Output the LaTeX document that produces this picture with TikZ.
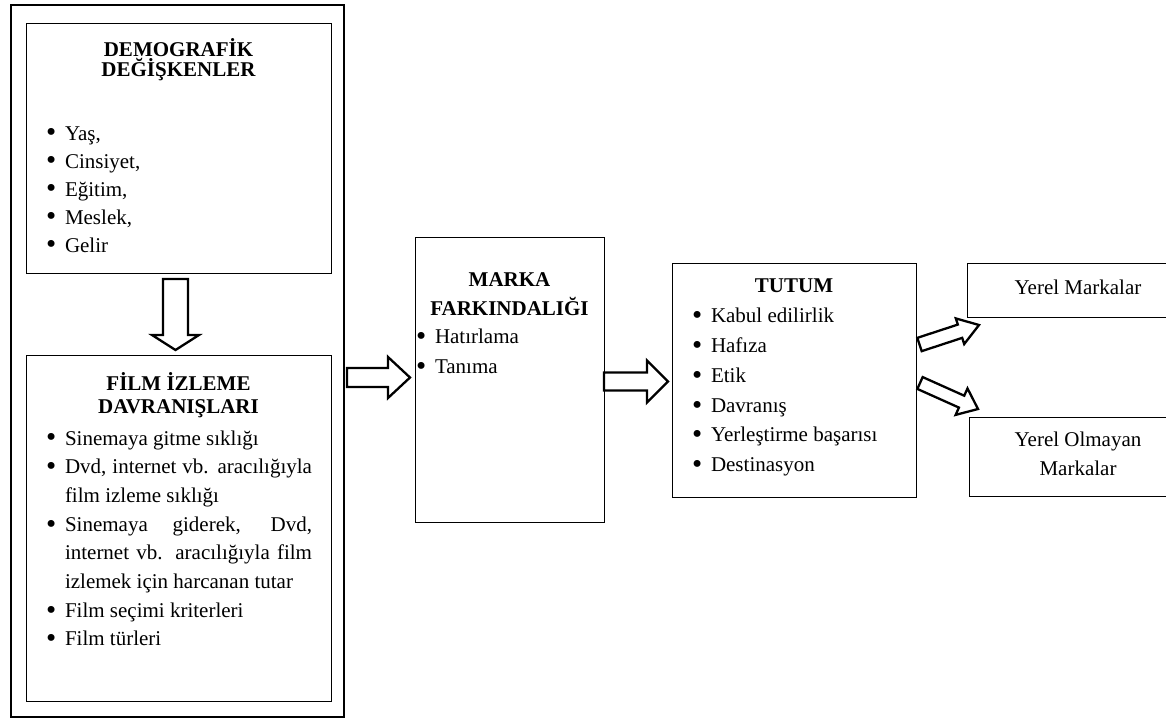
\documentclass[tikz,border=0pt]{standalone}
\usepackage{fontspec}
\setmainfont{Liberation Serif}
\usetikzlibrary{calc}
\newcommand\itm{\makebox[19pt][l]{\raisebox{-1.9pt}{\scalebox{1.38}{\textbullet}}}}
\newcommand\ind{\hspace*{19pt}}
\newcommand\lst[2]{\parbox[t]{300pt}{\fontsize{21pt}{#1}\selectfont #2}}
\newcommand\ttl[3]{\parbox[t]{300pt}{\centering#1\fontsize{21pt}{#2}\selectfont #3}}
\tikzset{
  box/.style={draw, line width=1.3pt, inner sep=0pt, anchor=north west},
  outerbox/.style={draw, line width=1.8pt, inner sep=0pt, anchor=north west},
  txt/.style={inner sep=0pt, outer sep=0pt},
  blockarrow/.style={draw, line width=2.3pt, fill=white, line join=miter},
}
% from, to, half shaft width, half head width, head length
\newcommand\blockarrow[5]{%
  \draw[blockarrow] let \p1=(#1), \p2=(#2),
     \n1={atan2(\y2-\y1,\x2-\x1)}, \n2={veclen(\x2-\x1,\y2-\y1)} in
     ($(\p1)+(\n1+90:#3)$) -- ++(\n1:{\n2*1pt-#5}) -- ++(\n1+90:{#4-#3}) -- (\p2)
     -- ($(\p2)+(\n1+180:#5)+(\n1-90:#4)$) -- ++(\n1+90:{#4-#3})
     -- ($(\p1)+(\n1-90:#3)$) -- cycle;}
\begin{document}
\begin{tikzpicture}[x=1pt,y=-1pt]
\useasboundingbox (0,0) rectangle (1166,718);
\clip (0,0) rectangle (1166,718);
\fill[white] (0,0) rectangle (1166,718);

% boxes
\node[outerbox, minimum width=333pt, minimum height=712pt] (outer) at (10,4) {};
\node[box, minimum width=305pt, minimum height=250pt] (demo) at (26,23) {};
\node[box, minimum width=305pt, minimum height=346pt] (film) at (26,355) {};
\node[box, minimum width=189pt, minimum height=285pt] (marka) at (415,237) {};
\node[box, minimum width=244pt, minimum height=234pt] (tutum) at (672,263) {};
\node[box, minimum width=222pt, minimum height=54pt] (yerel) at (967,263) {};
\node[box, minimum width=220pt, minimum height=79pt] (yabanci) at (969,417) {};

% texts
\node[txt, anchor=base] (demotitle) at (178.5,56) {\ttl{\bfseries}{20.7pt}{DEMOGRAFİK\\DEĞİŞKENLER}};
\node[txt, anchor=base west] (demolist) at (46,140) {\lst{28pt}{\itm Yaş,\\\itm Cinsiyet,\\\itm Eğitim,\\\itm Meslek,\\\itm Gelir}};

\node[txt, anchor=base] (filmtitle) at (178.5,390) {\ttl{\bfseries}{23.3pt}{FİLM İZLEME\\DAVRANIŞLARI}};
\node[txt, anchor=base west] (filmlist) at (46,445) {\lst{28.7pt}{%
\itm Sinemaya gitme sıklığı\\
\itm\makebox[247pt][s]{Dvd, internet vb. aracılığıyla}\\
\ind film izleme sıklığı\\
\itm\makebox[247pt][s]{Sinemaya giderek, Dvd,}\\
\ind\makebox[247pt][s]{internet vb. aracılığıyla film}\\
\ind izlemek için harcanan tutar\\
\itm Film seçimi kriterleri\\
\itm Film türleri}};

\node[txt, anchor=base] (markatitle) at (509.5,286.7) {\ttl{\bfseries}{28.3pt}{MARKA\\FARKINDALIĞI}};
\node[txt, anchor=base west] (markalist) at (416,343.3) {\lst{30pt}{\itm Hatırlama\\\itm Tanıma}};

\node[txt, anchor=base] (tutumtitle) at (794,292.7) {\ttl{\bfseries}{21pt}{TUTUM}};
\node[txt, anchor=base west] (tutumlist) at (692,322.7) {\lst{29.8pt}{\itm Kabul edilirlik\\\itm Hafıza\\\itm Etik\\\itm Davranış\\\itm Yerleştirme başarısı\\\itm Destinasyon}};

\node[txt, anchor=base] (yereltext) at (1078,294) {\ttl{}{21pt}{Yerel Markalar}};
\node[txt, anchor=base] (yabancitext) at (1078,446.7) {\ttl{}{28.3pt}{Yerel Olmayan\\Markalar}};

% arrow end points
\coordinate (d1) at (175.5,279);   \coordinate (d2) at (175.5,350);
\coordinate (a1) at (347,377.5);   \coordinate (a2) at (410,377.5);
\coordinate (b1) at (604,381.5);   \coordinate (b2) at (668,381.5);
\coordinate (c1) at (919.5,344.5); \coordinate (c2) at (979,325);
\coordinate (e1) at (920,383);     \coordinate (e2) at (978,409);

\blockarrow{d1}{d2}{12.5pt}{23.5pt}{15pt}
\blockarrow{a1}{a2}{9.5pt}{20.5pt}{22pt}
\blockarrow{b1}{b2}{9pt}{21pt}{21pt}
\blockarrow{c1}{c2}{7pt}{13.5pt}{20pt}
\blockarrow{e1}{e2}{6.5pt}{14.5pt}{18pt}
\end{tikzpicture}
\end{document}
